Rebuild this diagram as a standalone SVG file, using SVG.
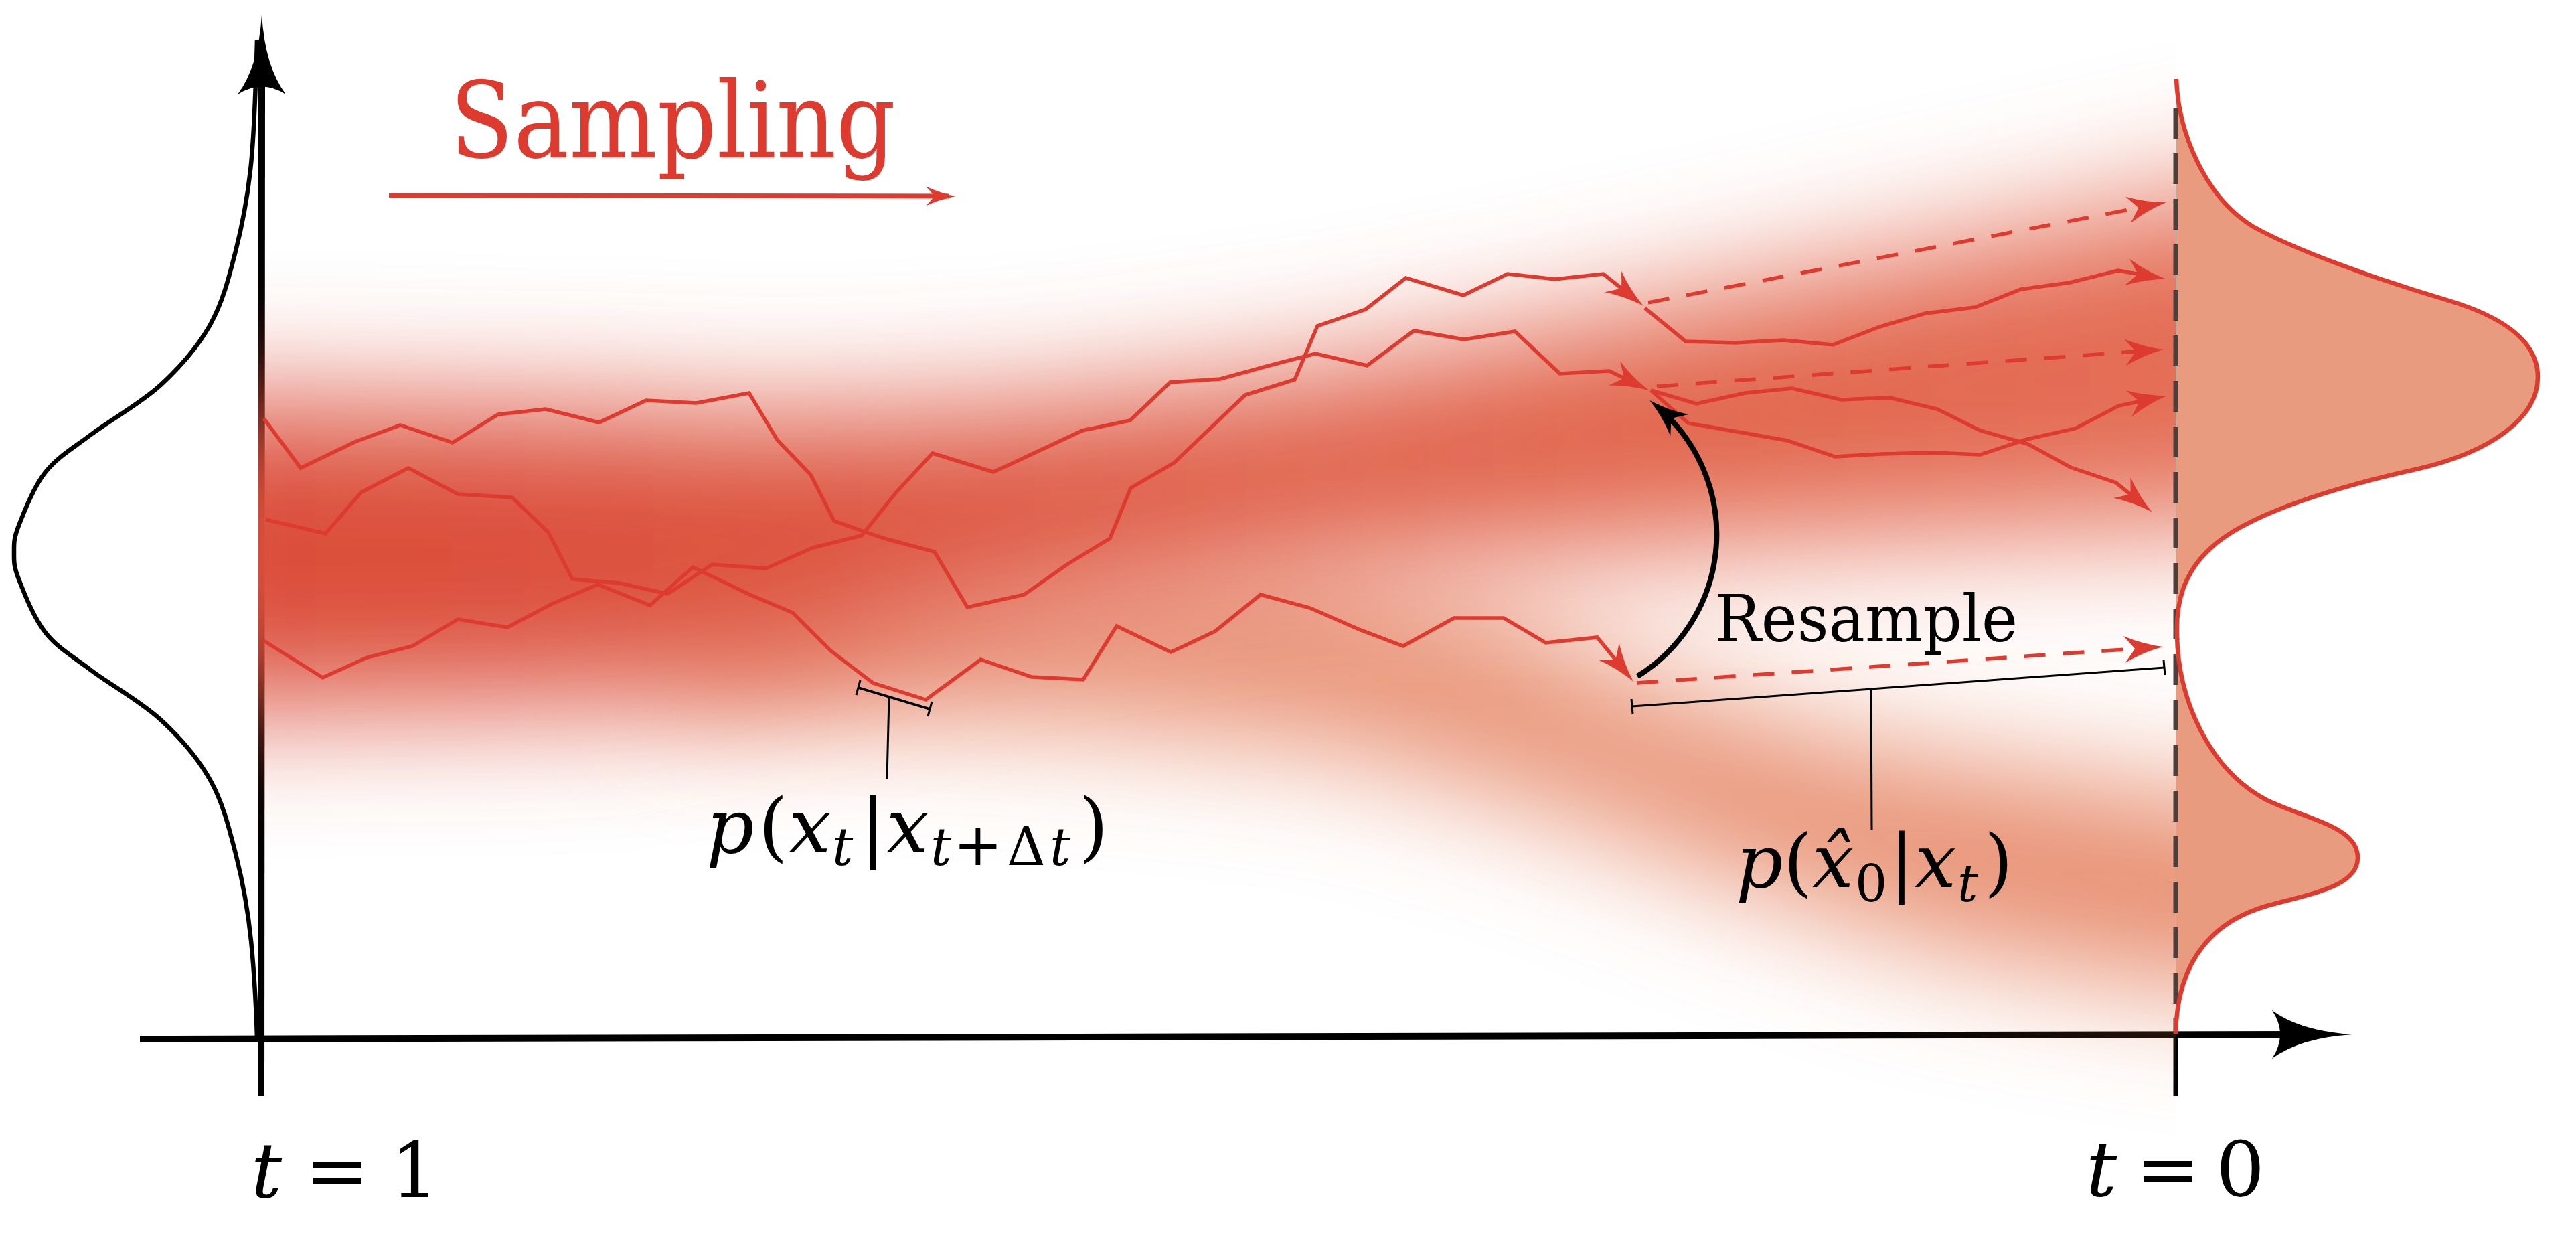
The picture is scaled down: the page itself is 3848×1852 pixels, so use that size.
<svg xmlns="http://www.w3.org/2000/svg" width="3848" height="1852" viewBox="0 0 3848 1852">
<defs>
<style>
.traj{fill:none;stroke:#dd3a30;stroke-width:5.5;stroke-linejoin:miter;stroke-miterlimit:6}
.dsh{fill:none;stroke:#dd3a30;stroke-width:5.5;stroke-dasharray:32 26}
.ax{fill:none;stroke:#000;stroke-width:10}
.thin{fill:none;stroke:#000;stroke-width:3}
.it{font-style:italic}
</style>
<linearGradient id="gU" gradientUnits="userSpaceOnUse" x1="390" y1="0" x2="3250" y2="0">
<stop offset="0" stop-color="#db4e3a"/>
<stop offset="0.4" stop-color="#dd5540"/>
<stop offset="0.7" stop-color="#e1644b"/>
<stop offset="1" stop-color="#e46e56"/>
</linearGradient>
<filter id="bl" filterUnits="userSpaceOnUse" x="0" y="0" width="3848" height="1852"><feGaussianBlur stdDeviation="95"/></filter>
<clipPath id="cp"><rect x="386" y="0" width="2864" height="1852"/></clipPath>
<marker id="mR" markerUnits="userSpaceOnUse" markerWidth="100" markerHeight="100" viewBox="-60 -50 100 100" refX="0" refY="0" orient="auto" overflow="visible">
<path d="M14,0 Q-16,-6 -44,-20 Q-34,-8 -28,0 Q-34,8 -44,20 Q-16,6 14,0Z" fill="#dd3a30"/>
</marker>
<marker id="mK" markerUnits="userSpaceOnUse" markerWidth="100" markerHeight="100" viewBox="-60 -50 100 100" refX="0" refY="0" orient="auto" overflow="visible">
<path d="M14,0 Q-16,-6 -44,-21 Q-34,-8 -28,0 Q-34,8 -44,21 Q-16,6 14,0Z" fill="#000"/>
</marker>
<marker id="mS" markerUnits="userSpaceOnUse" markerWidth="80" markerHeight="80" viewBox="-40 -40 80 80" refX="0" refY="0" orient="auto" overflow="visible">
<path d="M10,0 Q-12,-4 -35,-14.5 Q-27,-6 -22,0 Q-27,6 -35,14.5 Q-12,4 10,0Z" fill="#dd3a30"/>
</marker>
</defs>

<rect width="3848" height="1852" fill="#fff"/>

<g id="axes">
<line class="ax" x1="390" y1="1637" x2="391" y2="125"/>
<path d="M391,22 Q386,100 355,141 Q391,118 427,141 Q396,100 391,22Z" fill="#000"/>
<line class="ax" x1="209" y1="1552" x2="3420" y2="1545"/>
<path d="M3514,1545 Q3436,1540 3394,1509 Q3418,1545 3394,1581 Q3436,1550 3514,1545Z" fill="#000"/>
<line x1="3250" y1="1545" x2="3250" y2="1637" stroke="#000" stroke-width="7"/>
</g>

<g id="prior-distribution">
<path fill="none" stroke="#000" stroke-width="6.5" d="M384,60 C382.3,117.5 380.3,192.5 375,245 C369.7,297.5 362.2,335 352,375 C341.8,415 332.7,451.7 314,485 C295.3,518.3 269.7,547.7 240,575 C210.3,602.3 164.7,627.3 136,649 C107.3,670.7 86,682.3 68,705 C50,727.7 35.8,765 28,785 C20.2,805 21,811.7 21,825 C21,838.3 20.2,845 28,865 C35.8,885 50,922.3 68,945 C86,967.7 107.3,979.3 136,1001 C164.7,1022.7 210.3,1047.7 240,1075 C269.7,1102.3 295.3,1131.7 314,1165 C332.7,1198.3 341.8,1235 352,1275 C362.2,1315 369.7,1352.5 375,1405 C380.3,1457.5 383,1520 384,1551"/>
</g>

<g id="density-band" clip-path="url(#cp)">
<path filter="url(#bl)" fill="#e16e48" fill-opacity="0.8" d="M1000,890 L1500,880 L1950,860 L2250,930 L2450,1025 L2800,1125 L3250,1190 L3450,1210 L3450,1490 L3250,1470 L2900,1410 L2600,1310 L2300,1195 L2000,1110 L1600,1070 L1000,1040 Z"/>
<path filter="url(#bl)" fill="url(#gU)" d="M200,598 L900,610 L1150,622 L1500,610 L1800,578 L1950,560 L2200,515 L2500,455 L3000,350 L3450,255 L3450,780 L3250,785 L2800,800 L2450,815 L1950,845 L1500,915 L1150,1005 L900,1050 L200,1058 Z"/>
</g>

<g id="data-distribution">
<path fill="#e89b7f" stroke="none" d="M3251,118 C3254,200 3295,295 3365,338 C3430,375 3560,420 3655,448 C3740,473 3791,510 3791,563 C3791,625 3720,675 3613,700 C3500,725 3360,765 3303,818 C3262,855 3250,900 3252,950 C3254,1045 3300,1150 3386,1195 C3450,1225 3522,1235 3522,1281 C3522,1325 3450,1335 3386,1353 C3300,1378 3252,1440 3250,1544 Z"/>
<line x1="3250" y1="161" x2="3250" y2="1545" stroke="#4f3f3a" stroke-width="7" stroke-dasharray="46 22"/>
<path fill="none" stroke="#dd3a30" stroke-width="6.5" d="M3251,118 C3254,200 3295,295 3365,338 C3430,375 3560,420 3655,448 C3740,473 3791,510 3791,563 C3791,625 3720,675 3613,700 C3500,725 3360,765 3303,818 C3262,855 3250,900 3252,950 C3254,1045 3300,1150 3386,1195 C3450,1225 3522,1235 3522,1281 C3522,1325 3450,1335 3386,1353 C3300,1378 3252,1440 3250,1544"/>
</g>

<g id="trajectories">
<polyline class="traj" marker-end="url(#mR)" points="394,625 449,699 530,660 598,635 676,661 744,619 815,611 895,631 965,598 1040,602 1119,587 1161,657 1211,709 1246,778 1291,794 1324,805 1396,824 1445,907 1530,888 1594,843 1658,804 1689,729 1754,691 1860,590 1934,567 1968,487 2040,462 2100,415 2186,441 2252,409 2323,417 2395,409 2444,448"/>
<polyline class="traj" marker-end="url(#mR)" points="397,776 486,797 540,735 610,699 684,738 765,743 819,795 855,865 926,871 997,887 1064,843 1144,849 1214,818 1287,800 1339,735 1393,677 1484,705 1617,643 1688,628 1748,571 1823,566 1892,547 1965,528 2042,546 2112,494 2187,507 2263,495 2330,558 2404,554 2451,577"/>
<polyline class="traj" marker-end="url(#mR)" points="394,957 482,1012 548,982 616,965 684,925 758,937 824,902 893,873 971,904 1035,847 1120,888 1184,915 1241,972 1304,1020 1383,1045 1465,985 1541,1011 1618,1015 1668,935 1749,974 1815,943 1883,888 1957,908 2030,940 2096,965 2172,923 2246,923 2309,960 2386,952 2431,1007"/>
<polyline class="traj" marker-end="url(#mR)" points="2457,460 2518,510 2592,512 2664,508 2738,515 2808,488 2876,468 2950,459 3019,432 3092,422 3164,404 3221,414"/>
<polyline class="traj" marker-end="url(#mR)" points="2466,583 2534,603 2607,587 2677,580 2750,597 2823,594 2894,611 2958,643 3029,663 3093,698 3161,721 3204,756"/>
<polyline class="traj" marker-end="url(#mR)" points="2466,583 2522,632 2670,658 2741,682 2811,678 2888,676 2958,679 3028,656 3100,640 3165,606 3223,594"/>
<line class="dsh" marker-end="url(#mR)" x1="2462" y1="452" x2="3222" y2="305"/>
<line class="dsh" marker-end="url(#mR)" x1="2475" y1="577" x2="3218" y2="523"/>
<line class="dsh" marker-end="url(#mR)" x1="2445" y1="1020" x2="3217" y2="967"/>
</g>

<g id="resample-arrow">
<path d="M2446,1010 A249,249 0 0 0 2475,607" fill="none" stroke="#000" stroke-width="8" marker-end="url(#mK)"/>
<text font-family="DejaVu Serif" fill="#000" x="2562" y="958" font-size="98" textLength="452" lengthAdjust="spacingAndGlyphs">Resample</text>
</g>

<g id="sampling-title">
<text font-family="DejaVu Serif" fill="#dd3a30" x="672" y="235" font-size="157" textLength="666" lengthAdjust="spacingAndGlyphs">Sampling</text>
<line x1="581" y1="292" x2="1418" y2="293" stroke="#dd3a30" stroke-width="7" marker-end="url(#mS)"/>
</g>

<g id="transition-label">
<line x1="1282" y1="1027" x2="1389" y2="1059" stroke="#000" stroke-width="3.5"/>
<line x1="1285" y1="1016" x2="1279" y2="1038" stroke="#000" stroke-width="3"/>
<line x1="1392" y1="1048" x2="1386" y2="1070" stroke="#000" stroke-width="3"/>
<line class="thin" x1="1328" y1="1041" x2="1325" y2="1163"/>
<text font-family="DejaVu Serif" fill="#000" font-size="112"><tspan class="it" x="1055" y="1273">p</tspan><tspan x="1133" y="1273">(</tspan><tspan class="it" x="1178" y="1273">x</tspan><tspan class="it" x="1243" y="1292" font-size="78">t</tspan><tspan x="1285" y="1273">|</tspan><tspan class="it" x="1324" y="1273">x</tspan><tspan class="it" x="1390" y="1292" font-size="78">t</tspan><tspan x="1424" y="1292" font-size="88">+</tspan><tspan x="1504" y="1292" font-size="80">Δ</tspan><tspan class="it" x="1568" y="1292" font-size="78">t</tspan><tspan x="1612" y="1273">)</tspan></text>
</g>

<g id="denoise-label">
<line class="thin" x1="2438" y1="1055" x2="3233" y2="997"/>
<line x1="2437" y1="1044" x2="2439" y2="1066" stroke="#000" stroke-width="3"/>
<line x1="3232" y1="986" x2="3234" y2="1008" stroke="#000" stroke-width="3"/>
<line class="thin" x1="2795" y1="1029" x2="2796" y2="1240"/>
<text font-family="DejaVu Serif" fill="#000" font-size="110"><tspan class="it" x="2593" y="1325">p</tspan><tspan x="2664" y="1325">(</tspan><tspan class="it" x="2707" y="1325">x̂</tspan><tspan x="2771" y="1346" font-size="76">0</tspan><tspan x="2822" y="1325">|</tspan><tspan class="it" x="2860" y="1325">x</tspan><tspan class="it" x="2924" y="1346" font-size="76">t</tspan><tspan x="2964" y="1325">)</tspan></text>
</g>

<g id="time-labels">
<text font-family="DejaVu Serif" fill="#000" font-size="115"><tspan class="it" x="375" y="1788">t</tspan><tspan x="455" y="1788">=</tspan><tspan x="583" y="1788">1</tspan></text>
<text font-family="DejaVu Serif" fill="#000" font-size="115"><tspan class="it" x="3116" y="1786">t</tspan><tspan x="3190" y="1786">=</tspan><tspan x="3310" y="1786">0</tspan></text>
</g>
</svg>
